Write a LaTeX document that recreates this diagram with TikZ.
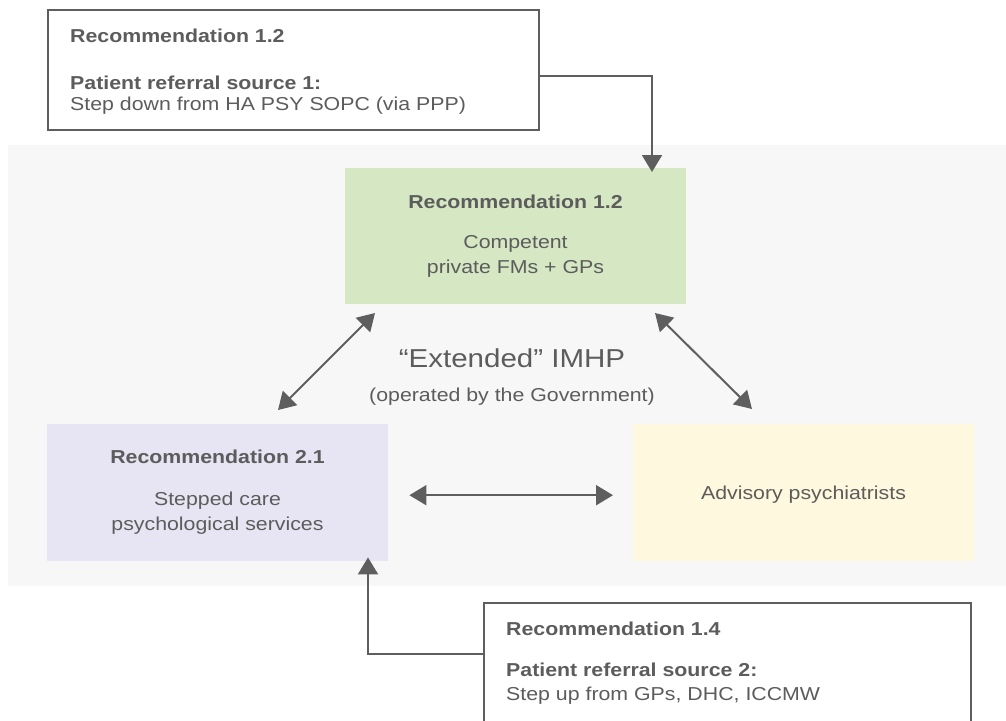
\documentclass[tikz,border=0pt]{standalone}
\usepackage{fontspec}
\setmainfont{Liberation Sans}[FakeStretch=1.14]
\usetikzlibrary{arrows.meta}

\definecolor{ink}{HTML}{5C5C5C}
\definecolor{wire}{HTML}{5E5E5E}
\definecolor{panel}{HTML}{F7F7F7}
\definecolor{fmfill}{HTML}{D5E8C3}
\definecolor{psyfill}{HTML}{E7E5F3}
\definecolor{advfill}{HTML}{FEF9DE}

\tikzset{
  box/.style={rectangle, draw=none, inner sep=0pt, anchor=north west},
  srcbox/.style={box, fill=white, draw=wire, line width=2pt},
  txt/.style={inner sep=0pt, text=ink, font=\fontsize{18.7}{22}\selectfont},
  hd/.style={txt, font=\fontsize{18.7}{22}\selectfont\bfseries},
  big/.style={inner sep=0pt, text=ink, font=\fontsize{25.9}{30}\selectfont},
  tipA/.tip={Triangle[length=17pt, width=20pt]},
  link/.style={draw=wire, line width=2pt},
  onearrow/.style={link, -tipA},
  twoarrow/.style={link, tipA-tipA},
}

\begin{document}
\begin{tikzpicture}[x=1pt, y=-1pt]
  \clip (0,0) rectangle (1006,720);

  % shaded panel of the extended programme
  \fill[panel] (8,145) rectangle (1006,586);

  % the three service boxes
  \node[box, fill=fmfill,  minimum width=341pt, minimum height=136pt] (fm)  at (345,168) {};
  \node[box, fill=psyfill, minimum width=341pt, minimum height=137pt] (psy) at (47,424) {};
  \node[box, fill=advfill, minimum width=341pt, minimum height=137pt] (adv) at (633,424) {};

  % referral source boxes
  \node[srcbox, minimum width=491pt, minimum height=120pt] (src1) at (47,9) {};
  \node[srcbox, minimum width=487pt, minimum height=120pt] (src2) at (483,602) {};

  % texts of the first referral source
  \node[hd,  anchor=base west] (s1a) at (70,42)  {Recommendation 1.2};
  \node[hd,  anchor=base west] (s1b) at (70,89)  {Patient referral source 1:};
  \node[txt, anchor=base west] (s1c) at (70,110) {Step down from HA PSY SOPC (via PPP)};

  % texts of the second referral source
  \node[hd,  anchor=base west] (s2a) at (506,635) {Recommendation 1.4};
  \node[hd,  anchor=base west] (s2b) at (506,676) {Patient referral source 2:};
  \node[txt, anchor=base west] (s2c) at (506,700) {Step up from GPs, DHC, ICCMW};

  % family medicine box
  \node[hd,  anchor=base] (fma) at (515.5,208) {Recommendation 1.2};
  \node[txt, anchor=base] (fmb) at (515.5,248) {Competent};
  \node[txt, anchor=base] (fmc) at (515.5,273) {private FMs + GPs};

  % psychological services box
  \node[hd,  anchor=base] (psa) at (217.5,463) {Recommendation 2.1};
  \node[txt, anchor=base] (psb) at (217.5,505) {Stepped care};
  \node[txt, anchor=base] (psc) at (217.5,530) {psychological services};

  % advisory psychiatrists box
  \node[txt, anchor=base] (ada) at (803.5,499) {Advisory psychiatrists};

  % programme title
  \node[big, anchor=base] (ttl) at (512,367) {“Extended” IMHP};
  \node[txt, anchor=base] (sub) at (512,401) {(operated by the Government)};

  % connector bends and free ends
  \coordinate (j1) at (652,76);
  \coordinate (j2) at (368,654);
  \coordinate (l1) at (375,313);
  \coordinate (l2) at (278,410);
  \coordinate (r1) at (655,313);
  \coordinate (r2) at (752,409);

  % referrals into the programme
  \draw[onearrow] (src1.east |- j1) -| ([yshift=-4pt]fm.north -| j1);
  \draw[onearrow] (src2.west |- j2) -| ([yshift=4pt]psy.south -| j2);

  % links inside the programme
  \draw[twoarrow] (l1) -- (l2);
  \draw[twoarrow] (r1) -- (r2);
  \draw[twoarrow] ([xshift=21pt,yshift=-2.5pt]psy.east) -- ([xshift=-20pt,yshift=-2.5pt]adv.west);
\end{tikzpicture}
\end{document}
